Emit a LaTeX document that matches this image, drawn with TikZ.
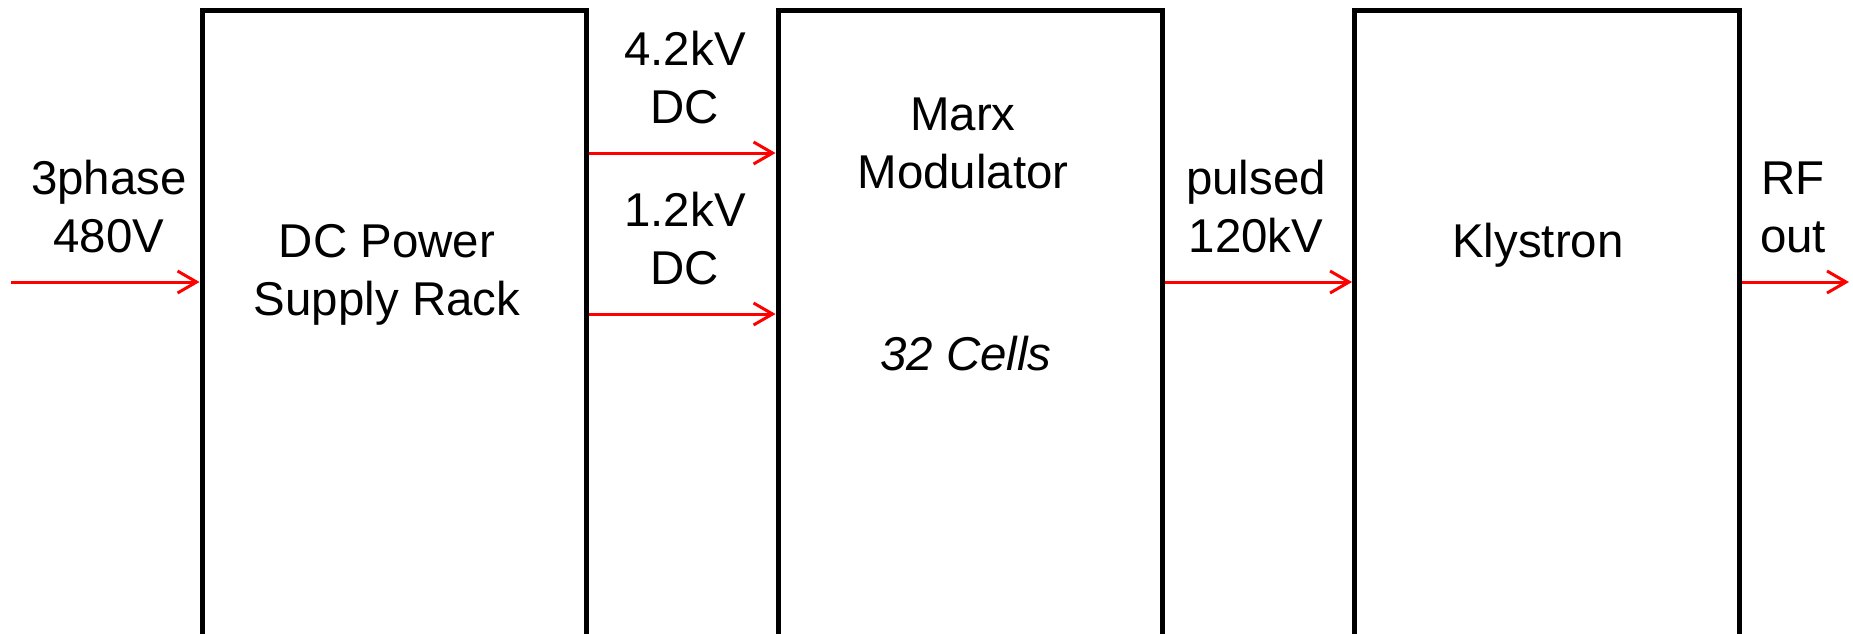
\documentclass[tikz,border=0pt]{standalone}
\usepackage{fontspec}
\setmainfont{Liberation Sans}
\usetikzlibrary{arrows.meta,positioning}

\begin{document}
\begin{tikzpicture}[x=0.02cm,y=-0.02cm,>={Straight Barb[length=0.38cm,width=0.44cm]},
 font=\fontsize{27}{33}\selectfont,
 unit/.style={draw,line width=0.1cm,minimum width=7.7cm,minimum height=13.8cm,inner sep=0pt},
 lbl/.style={align=center,anchor=base,inner sep=0pt},
 feed/.style={->,red,line width=0.06cm}]
\useasboundingbox (0,0) rectangle (1853,633);
% the three racks
\node[unit] (psr) at (394.5,355) {};
\node[unit] (marx) at (970.5,355) {};
\node[unit] (kly) at (1547,355) {};
% texts in the racks (base = last line)
\node[lbl] (psrtxt) at (387,315) {DC Power\\Supply Rack};
\node[lbl] (marxtxt) at (963,188) {Marx\\Modulator};
\node[lbl,font=\fontsize{27}{33}\selectfont\itshape] (cells) at (966,370) {32 Cells};
\node[lbl] (klytxt) at (1538,257) {Klystron};
% texts on the lines
\node[lbl] (mains) at (109,252) {3phase\\480V};
\node[lbl] (hvtxt) at (685,123) {4.2kV\\DC};
\node[lbl] (lvtxt) at (685,284) {1.2kV\\DC};
\node[lbl] (pulse) at (1256,252) {pulsed\\120kV};
\node[lbl] (rf) at (1793,252) {RF\\out};
% feeds
\coordinate (ac) at (11,282);
\coordinate (hv) at (682,153);
\coordinate (lv) at (682,314);
\coordinate (hvp) at (1259,282);
\coordinate (rfout) at (1849,282);
\draw[feed] (ac) -- (ac -| psr.west);
\draw[feed] (hv -| psr.east) -- (hv -| marx.west);
\draw[feed] (lv -| psr.east) -- (lv -| marx.west);
\draw[feed] (hvp -| marx.east) -- (hvp -| kly.west);
\draw[feed] (rfout -| kly.east) -- (rfout);
\end{tikzpicture}
\end{document}
